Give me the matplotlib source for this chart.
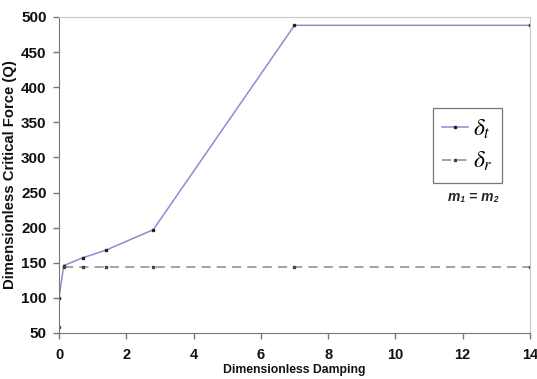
import numpy as np
import matplotlib.pyplot as plt

plt.rcParams['font.family'] = ['Liberation Sans', 'DejaVu Sans']
plt.rcParams['mathtext.fontset'] = 'stix'

# damping values and critical force for the two cases
damping_t = [0, 0.14, 0.7, 1.4, 2.8, 7, 14]
force_t = [100, 146, 157, 168, 197, 488, 488]

damping_r = [0, 0, 0.14, 0.7, 1.4, 2.8, 7, 14]
force_r = [58, np.nan, 144, 144, 144, 144, 144, 144]

x_ticks = [0, 2, 4, 6, 8, 10, 12, 14]
y_ticks = [50, 100, 150, 200, 250, 300, 350, 400, 450, 500]

fig = plt.figure(figsize=(5.37, 3.79), dpi=100)
ax = fig.add_axes([0.1099, 0.1214, 0.877, 0.834])

ax.plot(damping_t, force_t, color='#8c8cd2', linewidth=1.1,
        marker='s', markersize=2, markerfacecolor='#222222',
        markeredgecolor='#222222', label=r'$\delta_t$')
ax.plot(damping_r, force_r, color='#8a8a8a', linewidth=1.1, linestyle=(0, (6, 4)),
        marker='s', markersize=1.6, markerfacecolor='#444444',
        markeredgecolor='#444444', label=r'$\delta_r$')

ax.set_xlim(0, 14)
ax.set_ylim(50, 500)
ax.set_xticks(x_ticks)
ax.set_yticks(y_ticks)
ax.tick_params(direction='out', length=4, width=1, color='#777777', labelsize=11)
ax.tick_params(axis='x', pad=7, labelsize=10.5)
ax.tick_params(axis='y', pad=5)
for lab in ax.get_xticklabels() + ax.get_yticklabels():
    lab.set_fontweight('bold')
    lab.set_color('#111111')

for side in ['left', 'bottom']:
    ax.spines[side].set_color('#777777')
for side in ['top', 'right']:
    ax.spines[side].set_color('#c8c8c8')

ax.set_xlabel('Dimensionless Damping', fontsize=8.8, fontweight='bold', labelpad=1,
              color='#111111')
ax.set_ylabel('Dimensionless Critical Force (Q)', fontsize=10.7, fontweight='bold',
              labelpad=3, color='#111111')

leg = ax.legend(loc='upper left', bbox_to_anchor=(0.794, 0.712), fontsize=17,
                frameon=True, fancybox=False, handlelength=1.1,
                borderpad=0.4, borderaxespad=0, labelspacing=0.4,
                handletextpad=0.2)
leg.get_frame().set_edgecolor('#555555')
leg.get_frame().set_linewidth(0.9)

ax.text(0.879, 0.43, 'm\u2081 = m\u2082', transform=ax.transAxes, ha='center',
        va='center', fontsize=10, fontweight='bold', fontstyle='italic',
        color='#222222')

fig.savefig('out.png', dpi=100)
